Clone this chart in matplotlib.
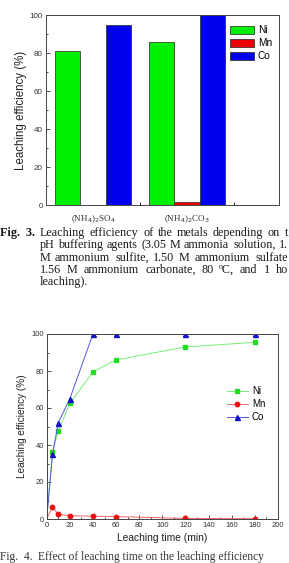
import matplotlib
matplotlib.use("Agg")
import matplotlib.pyplot as plt
from matplotlib.ticker import MultipleLocator, FixedLocator

# ---- data ----
agents = [r'(NH$_4$)$_2$SO$_4$', r'(NH$_4$)$_2$CO$_3$']
bar_ni = [81.2, 86.0]
bar_mn = [0.3, 1.5]
bar_co = [95.0, 100.0]

time_min = [0, 5, 10, 20, 40, 60, 120, 180]
ni_t = [0, 36.0, 47.5, 62.5, 79.5, 86.0, 93.0, 95.5]
mn_t = [0, 6.5, 2.5, 1.8, 1.5, 1.3, 0.3, 0.2]
co_t = [0, 35.0, 52.0, 65.0, 100.0, 100.0, 100.0, 100.0]

metals = ['Ni', 'Mn', 'Co']
bar_colors = ['#00ee00', '#ee0000', '#0000ee']

cap3_first = "Leaching efficiency of the metals depending on t"
cap3 = ["pH buffering agents (3.05 M ammonia solution, 1.",
        "M ammonium sulfite, 1.50 M ammonium sulfate",
        "1.56 M ammonium carbonate, 80 \u00baC, and 1 ho",
        "leaching)."]
cap4 = "Effect of leaching time on the leaching efficiency"

W, H = 289, 563
fig = plt.figure(figsize=(W / 100, H / 100), dpi=100)
sans = 'Liberation Sans'
serif = 'Liberation Serif'
capsize = 8.7

def fx(px):
    return px / W

def fy(py):
    return 1 - py / H

renderer = fig.canvas.get_renderer()

def justified(line, x0, x1, ybase, **kw):
    words = line.split(' ')
    texts = [fig.text(0, fy(ybase), w, va='baseline', ha='left', **kw) for w in words]
    widths = [t.get_window_extent(renderer).width for t in texts]
    gap = (x1 - x0 - sum(widths)) / max(len(words) - 1, 1)
    x = x0
    for t, wd in zip(texts, widths):
        t.set_x(fx(round(x)))
        x += wd + gap

# ---- top bar chart ----
ax1 = fig.add_axes([fx(45.7), fy(205.3), fx(279 - 45.7), (205.3 - 15.3) / H])
pos = [1, 2]
bw = 0.27
for i, (vals, c, lab) in enumerate(zip([bar_ni, bar_mn, bar_co], bar_colors, metals)):
    xs = [p + (i - 1) * bw for p in pos]
    ax1.bar(xs, vals, width=bw, color=c, edgecolor='#222222', linewidth=0.5, label=lab)
ax1.set_xlim(0.497, 2.98)
ax1.set_ylim(0, 100)
ax1.set_xticks(pos)
ax1.set_xticklabels(agents, fontfamily=serif, fontsize=6.5)
ax1.xaxis.set_minor_locator(FixedLocator([1.5, 2.5]))
ax1.tick_params(axis='x', which='major', length=0, pad=6, colors='#333333')
ax1.tick_params(axis='x', which='minor', direction='in', length=2, width=0.6)
ax1.yaxis.set_major_locator(MultipleLocator(20))
ax1.yaxis.set_minor_locator(MultipleLocator(10))
ax1.tick_params(axis='y', which='major', direction='in', length=3, width=0.6, labelsize=5.8, pad=2, colors='#333333')
ax1.tick_params(axis='y', which='minor', direction='in', length=1.5, width=0.5)
for lab in ax1.get_yticklabels():
    lab.set_fontfamily(sans)
ax1.set_ylabel('Leaching efficiency (%)', fontfamily=sans, fontsize=8.3, labelpad=2, color='#222222')
for s in ax1.spines.values():
    s.set_linewidth(0.7)
    s.set_color('#444444')
ax1.legend(loc='upper right', frameon=False, prop={'family': sans, 'size': 7.3},
           handlelength=2.3, handleheight=0.9, handletextpad=0.4, labelspacing=0.3,
           borderaxespad=0.3, bbox_to_anchor=(1.0, 0.985))

# ---- caption Fig. 3 ----
ckw = dict(fontfamily=serif, fontsize=capsize, color='#1a1a1a')
baselines = [236, 248, 261, 273, 285]
fig.text(fx(0), fy(baselines[0]), 'Fig.  3.', fontweight='bold', va='baseline', ha='left', **ckw)
justified(cap3_first, 40, 288, baselines[0], **ckw)
right_edges = [288, 287, 288]
for k, line in enumerate(cap3):
    yb = baselines[k + 1]
    if k < len(right_edges):
        justified(line, 40, right_edges[k], yb, **ckw)
    else:
        fig.text(fx(40), fy(yb), line, va='baseline', ha='left', **ckw)

# ---- bottom line chart ----
ax2 = fig.add_axes([fx(46.7), fy(519), fx(278 - 46.7), (519 - 334) / H])
me = list(range(1, len(time_min)))
ax2.plot(time_min, ni_t, color='#77ee77', lw=0.7, marker='s', ms=3.2, mfc='#22dd22', mec='#22dd22',
         markevery=me, label='Ni')
ax2.plot(time_min, mn_t, color='#ee6666', lw=0.7, marker='o', ms=3.2, mfc='#ee1111', mec='#ee1111',
         markevery=me, label='Mn')
ax2.plot(time_min, co_t, color='#5555dd', lw=0.7, marker='^', ms=3.6, mfc='#1111cc', mec='#1111cc',
         markevery=me, label='Co')
ax2.set_xlim(0, 200)
ax2.set_ylim(0, 100)
ax2.xaxis.set_major_locator(MultipleLocator(20))
ax2.xaxis.set_minor_locator(MultipleLocator(10))
ax2.yaxis.set_major_locator(MultipleLocator(20))
ax2.yaxis.set_minor_locator(MultipleLocator(10))
ax2.tick_params(which='major', direction='in', length=3, width=0.6, labelsize=5.5, pad=2, colors='#333333')
ax2.tick_params(which='minor', direction='in', length=1.5, width=0.5)
for lab in ax2.get_xticklabels() + ax2.get_yticklabels():
    lab.set_fontfamily(sans)
ax2.set_ylabel('Leaching efficiency (%)', fontfamily=sans, fontsize=7.2, labelpad=3, color='#222222')
ax2.set_xlabel('Leaching time (min)', fontfamily=sans, fontsize=7.4, labelpad=3, color='#222222')
for s in ax2.spines.values():
    s.set_linewidth(0.7)
    s.set_color('#444444')
ax2.legend(loc='center left', bbox_to_anchor=(0.74, 0.62), frameon=False,
           prop={'family': sans, 'size': 7}, handlelength=2.2, handletextpad=0.4, labelspacing=0.3)

# ---- caption Fig. 4 (at the bottom edge) ----
c4kw = dict(fontfamily=serif, fontsize=capsize - 0.4, color='#333333')
fig.text(fx(0), fy(560), 'Fig.  4.', va='baseline', ha='left', **c4kw)
fig.text(fx(38), fy(560), cap4, va='baseline', ha='left', **c4kw)

fig.savefig('out.png', dpi=100)
